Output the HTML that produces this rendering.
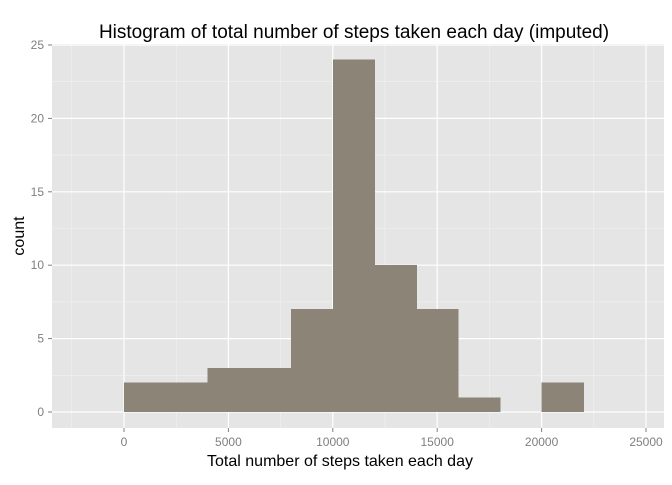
<!DOCTYPE html>
<html><head><meta charset="utf-8"><style>
body{margin:0;background:#fff;font-family:"Liberation Sans",sans-serif}
</style></head><body>
<svg width="672" height="480" xmlns="http://www.w3.org/2000/svg">
<rect width="672" height="480" fill="#fff"/>
<text x="354" y="38" font-size="19" text-anchor="middle" fill="#000">Histogram of total number of steps taken each day (imputed)</text>
<rect x="52" y="44" width="612" height="384" fill="#e5e5e5"/>
<g id="grid"></g>
<g id="bars" shape-rendering="crispEdges"></g>
<g id="axes"></g>
<text x="340" y="466" font-size="16" text-anchor="middle">Total number of steps taken each day</text>
<text transform="translate(24,236) rotate(-90)" font-size="16" text-anchor="middle">count</text>
</svg>
<script>
const binStarts=[0,2000,4000,6000,8000,10000,12000,14000,16000,18000,20000];
const counts=[2,2,3,3,7,24,10,7,1,0,2];
const binWidth=2000;
const xTicks=[0,5000,10000,15000,20000,25000];
const yTicks=[0,5,10,15,20,25];
const ns="http://www.w3.org/2000/svg";
const x=v=>124+v*(522/25000);
const y=v=>412-v*(367/25);
function mk(t,a,p){const e=document.createElementNS(ns,t);for(const k in a)e.setAttribute(k,a[k]);p.appendChild(e);return e;}
const grid=document.getElementById('grid'),bars=document.getElementById('bars'),axes=document.getElementById('axes');
for(let i=0;i<xTicks.length;i++){
  const m=x(xTicks[i]-2500);
  if(m>52){const g=mk('line',{x1:m,x2:m,y1:44,y2:428,stroke:'#f2f2f2','stroke-width':0.6},grid);
  
  }
  const px=x(xTicks[i]);
  const l=mk('line',{x1:px,x2:px,y1:44,y2:428,stroke:'#fff','stroke-width':1.2},grid);
  
  
  mk('line',{x1:px,x2:px,y1:428,y2:432,stroke:'#7f7f7f'},axes);
  const t=mk('text',{x:px,y:446,'font-size':12,'text-anchor':'middle',fill:'#7f7f7f'},axes);
  t.textContent=xTicks[i];
  
  
}
for(let i=0;i<yTicks.length;i++){
  const m=y(yTicks[i]+2.5);
  if(m>44){const g=mk('line',{x1:52,x2:664,y1:m,y2:m,stroke:'#f2f2f2','stroke-width':0.6},grid);
  
  }
  const py=y(yTicks[i]);
  const l=mk('line',{x1:52,x2:664,y1:py,y2:py,stroke:'#fff','stroke-width':1.2},grid);
  
  
  mk('line',{x1:48,x2:52,y1:py,y2:py,stroke:'#7f7f7f'},axes);
  const t=mk('text',{x:44,y:py+4,'font-size':12,'text-anchor':'end',fill:'#7f7f7f'},axes);
  t.textContent=yTicks[i];
  
  
}
for(let i=0;i<binStarts.length;i++){
  if(counts[i]<=0)continue;
  const x0=x(binStarts[i]),x1=x(binStarts[i]+binWidth);
  const r=mk('rect',{x:x0,y:y(counts[i]),width:x1-x0+0.5,height:y(0)-y(counts[i]),fill:'#8c8477'},bars);
  
  
}
</script>
</body></html>
